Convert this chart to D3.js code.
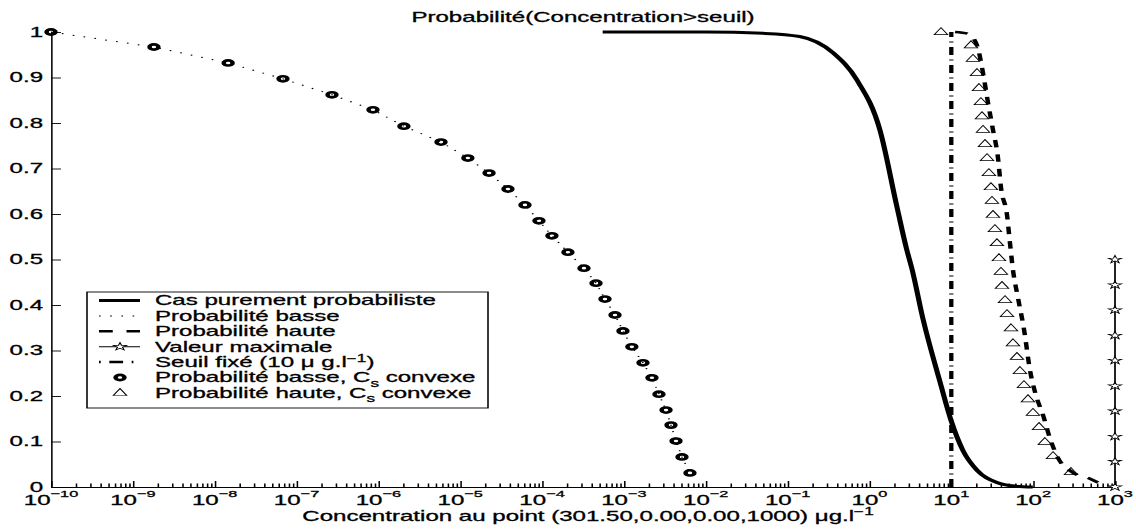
<!DOCTYPE html>
<html>
<head>
<meta charset="utf-8">
<script src="https://cdn.jsdelivr.net/npm/d3@7"></script>
<style>
  html, body { margin: 0; padding: 0; background: #fff; }
  svg { display: block; }
</style>
</head>
<body>
<div id="chart"></div>
<script>
// ---------------- data ----------------
const xDecades = [-10,-9,-8,-7,-6,-5,-4,-3,-2,-1,0,1,2,3];
const yTicks = [0,0.1,0.2,0.3,0.4,0.5,0.6,0.7,0.8,0.9,1];

// Cas purement probabiliste (solid)
const solidX = [5.5e-4, 0.01, 0.05, 0.14, 0.36, 0.7, 1.34, 2.17, 2.87, 3.3, 4.5, 7.3, 9.9, 13.9, 20.6, 36, 60, 99];
const solidP = [1, 1, 0.997, 0.99, 0.954, 0.895, 0.785, 0.615, 0.52, 0.48, 0.37, 0.23, 0.147, 0.08, 0.037, 0.01, 0.002, 0];

// Probabilité basse (dotted) and Probabilité basse, Cs convexe (circles)
const basseX = [1e-10, 1.81e-9, 1.46e-8, 6.83e-8, 2.71e-7, 8.59e-7, 2.05e-6, 5.82e-6, 1.24e-5, 2.25e-5,
  3.83e-5, 6.18e-5, 9.16e-5, 1.32e-4, 2.07e-4, 3.25e-4, 4.56e-4, 5.87e-4, 7.78e-4, 9.73e-4,
  1.25e-3, 1.71e-3, 2.20e-3, 2.68e-3, 3.27e-3, 3.76e-3, 4.33e-3, 5.12e-3, 6.41e-3];
const basseP = [1, 0.967, 0.932, 0.897, 0.862, 0.829, 0.793, 0.758, 0.723, 0.690,
  0.655, 0.620, 0.585, 0.552, 0.516, 0.481, 0.448, 0.413, 0.378, 0.343,
  0.308, 0.273, 0.240, 0.204, 0.169, 0.136, 0.101, 0.066, 0.031];

// Probabilité haute (dashed)
const hauteX = [11.1, 16.0, 20.6, 24.4, 28.0, 32.3, 37.2, 40.4, 47.9, 52.1, 56.7, 65.2, 77.2, 91.4, 108, 132, 160, 201, 298, 494, 800];
const hauteP = [1, 0.996, 0.971, 0.910, 0.846, 0.785, 0.723, 0.659, 0.598, 0.536, 0.477, 0.416, 0.347, 0.257, 0.202, 0.158, 0.108, 0.064, 0.033, 0.018, 0];

// Probabilité haute, Cs convexe (triangles)
const hauteCsX = [7.48, 17.4, 18.4, 20.6, 21.8, 23.0, 23.7, 24.4, 25.8, 27.3, 28.8, 30.5, 31.4, 32.3, 34.1, 36.1,
  38.2, 40.4, 41.6, 45.3, 47.9, 53.6, 56.7, 63.4, 69.0, 77.2, 86.4, 99.5, 118, 139, 175, 290];
const hauteCsP = [1, 0.971, 0.941, 0.910, 0.877, 0.846, 0.815, 0.785, 0.754, 0.723, 0.690, 0.659, 0.629, 0.598, 0.567, 0.536,
  0.503, 0.473, 0.442, 0.411, 0.380, 0.349, 0.316, 0.286, 0.255, 0.224, 0.193, 0.163, 0.132, 0.099, 0.068, 0.033];

// Valeur maximale (stars)
const maxX = 1000;
const maxP = [0, 0.056, 0.111, 0.167, 0.222, 0.278, 0.333, 0.389, 0.444, 0.5];

// Seuil fixé
const seuilX = 10;
const seuilP = [0, 1];

const titleText = "Probabilité(Concentration>seuil)";
const xLabelText = "Concentration au point (301.50,0.00,0.00,1000) μg.l";

// ---------------- layout ----------------
const W = 1136, H = 529;
const S = 1.72;               // horizontal stretch of the original figure
const FONT = "'Liberation Sans', Arial, Helvetica, sans-serif";

const svg = d3.select("#chart").append("svg").attr("width", W).attr("height", H);
const g = svg.append("g").attr("transform", `scale(${S},1)`)
  .style("font-family", FONT);

const x = d3.scaleLog().domain([1e-10, 1e3]).range([51 / S, 1115 / S]);
const y = d3.scaleLinear().domain([0, 1]).range([487, 32]);

const textStyle = sel => sel.attr("fill", "#000").attr("stroke", "#000").attr("stroke-width", 0.3);

// ---------------- axes ----------------
const majors = xDecades.map(e => Math.pow(10, e));
const minors = [];
xDecades.slice(0, -1).forEach(e => { for (let k = 2; k <= 9; k++) minors.push(k * Math.pow(10, e)); });

const xMinor = g.append("g").attr("transform", `translate(0,${y(0)})`)
  .call(d3.axisBottom(x).tickValues(minors).tickSize(-3.5).tickSizeOuter(0).tickFormat(""));
xMinor.select(".domain").remove();
const xMajor = g.append("g").attr("transform", `translate(0,${y(0)})`)
  .call(d3.axisBottom(x).tickValues(majors).tickSize(-6).tickSizeOuter(0).tickFormat(""));
g.selectAll(".tick line").attr("stroke", "#000").attr("stroke-width", 0.9);

// x tick labels 10^e
const xl = g.append("g").style("font-size", "14px").call(textStyle);
xDecades.forEach(e => {
  const t = xl.append("text").attr("x", x(Math.pow(10, e))).attr("y", 505).attr("text-anchor", "middle");
  t.append("tspan").text("10");
  t.append("tspan").attr("dy", -8).style("font-size", "9.5px").text(String(e).replace("-", "−"));
});

const yAxis = g.append("g").attr("transform", `translate(${x(1e-10)},0)`)
  .call(d3.axisLeft(y).tickValues(yTicks).tickSize(-5.8).tickSizeOuter(0).tickPadding(4.6)
    .tickFormat(d => d === 0 ? "0" : d === 1 ? "1" : d.toFixed(1)));
yAxis.selectAll("text").style("font-size", "14px").style("font-family", FONT).call(textStyle);
yAxis.selectAll(".tick line").attr("stroke", "#000").attr("stroke-width", 0.9);
g.selectAll(".domain").attr("stroke", "#000").attr("stroke-width", 0.9);

// title & x label
g.append("text").attr("x", 583 / S).attr("y", 22).attr("text-anchor", "middle")
  .style("font-size", "14px").call(textStyle).text(titleText);
const xlab = g.append("text").attr("x", 588 / S).attr("y", 521).attr("text-anchor", "middle")
  .style("font-size", "14px").call(textStyle);
xlab.append("tspan").text(xLabelText);
xlab.append("tspan").attr("dy", -6).style("font-size", "10px").text("−1");

// ---------------- series ----------------
const zip = (xs, ps) => xs.map((v, i) => [v, ps[i]]);
const lineMono = d3.line().x(d => x(d[0])).y(d => y(d[1])).curve(d3.curveMonotoneX);
const lineLin = d3.line().x(d => x(d[0])).y(d => y(d[1]));

// solid
g.append("path").datum(zip(solidX, solidP)).attr("d", lineMono)
  .attr("fill", "none").attr("stroke", "#000").attr("stroke-width", 3);
// dotted
g.append("path").datum(zip(basseX, basseP)).attr("d", lineLin)
  .attr("fill", "none").attr("stroke", "#000").attr("stroke-width", 1).attr("stroke-dasharray", "1,5.5");
// dashed
g.append("path").datum(zip(hauteX, hauteP)).attr("d", lineMono)
  .attr("fill", "none").attr("stroke", "#000").attr("stroke-width", 2.6).attr("stroke-dasharray", "7.5,7");
// stars
const starPath = d3.symbol().type(d3.symbolStar).size(18)();
g.append("path").datum(maxP.map(p => [maxX, p])).attr("d", lineLin)
  .attr("fill", "none").attr("stroke", "#000").attr("stroke-width", 1);
g.append("g").selectAll("path").data(maxP).join("path")
  .attr("d", starPath).attr("transform", p => `translate(${x(maxX)},${y(p)})`)
  .attr("fill", "#fff").attr("stroke", "#000").attr("stroke-width", 0.7);
// seuil dash-dot
g.append("path").datum(seuilP.map(p => [seuilX, p])).attr("d", lineLin)
  .attr("fill", "none").attr("stroke", "#000").attr("stroke-width", 2.5).attr("stroke-dasharray", "8,4.5,1,4.5");
// circles
g.append("g").selectAll("circle").data(zip(basseX, basseP)).join("circle")
  .attr("cx", d => x(d[0])).attr("cy", d => y(d[1])).attr("r", 2.6)
  .attr("fill", "none").attr("stroke", "#000").attr("stroke-width", 2.6);
// triangles
const tri = "M0,-4.4L3.9,2.6L-3.9,2.6Z";
g.append("g").selectAll("path").data(zip(hauteCsX, hauteCsP)).join("path")
  .attr("d", tri).attr("transform", d => `translate(${x(d[0])},${y(d[1])})`)
  .attr("fill", "none").attr("stroke", "#000").attr("stroke-width", 0.7);

// ---------------- legend ----------------
const legend = [
  { type: "solid", parts: [{ t: "Cas purement probabiliste" }] },
  { type: "dotted", parts: [{ t: "Probabilité basse" }] },
  { type: "dashed", parts: [{ t: "Probabilité haute" }] },
  { type: "star", parts: [{ t: "Valeur maximale" }] },
  { type: "dashdot", parts: [{ t: "Seuil fixé (10 μ g.l" }, { t: "−1", sup: true }, { t: ")" }] },
  { type: "circle", parts: [{ t: "Probabilité basse, C" }, { t: "s", sub: true }, { t: " convexe" }] },
  { type: "triangle", parts: [{ t: "Probabilité haute, C" }, { t: "s", sub: true }, { t: " convexe" }] }
];
const lg = g.append("g");
lg.append("rect").attr("x", 87 / S).attr("y", 292).attr("width", (488 - 87) / S).attr("height", 116)
  .attr("fill", "#fff").attr("stroke", "#000").attr("stroke-width", 0.9);
const lx0 = 99 / S, lx1 = 140 / S, lxm = 120 / S, ltx = 155 / S;
legend.forEach((e, i) => {
  const base = 305.5 + 15.4 * i, ly = base - 5;
  const row = lg.append("g");
  const seg = () => row.append("line").attr("x1", lx0).attr("x2", lx1).attr("y1", ly).attr("y2", ly)
    .attr("stroke", "#000").attr("fill", "none");
  if (e.type === "solid") seg().attr("stroke-width", 3);
  if (e.type === "dotted") seg().attr("stroke-width", 1).attr("stroke-dasharray", "1,5.5");
  if (e.type === "dashed") seg().attr("stroke-width", 2.6).attr("stroke-dasharray", "8,8");
  if (e.type === "dashdot") seg().attr("stroke-width", 2.5).attr("stroke-dasharray", "8,5,1,5").attr("stroke-dashoffset", 13);
  if (e.type === "star") {
    seg().attr("stroke-width", 1);
    row.append("path").attr("d", starPath).attr("transform", `translate(${lxm},${ly})`)
      .attr("fill", "#fff").attr("stroke", "#000").attr("stroke-width", 0.7);
  }
  if (e.type === "circle") row.append("circle").attr("cx", lxm).attr("cy", ly).attr("r", 2.6)
    .attr("fill", "none").attr("stroke", "#000").attr("stroke-width", 2.6);
  if (e.type === "triangle") row.append("path").attr("d", tri).attr("transform", `translate(${lxm},${ly})`)
    .attr("fill", "none").attr("stroke", "#000").attr("stroke-width", 0.7);
  const t = row.append("text").attr("x", ltx).attr("y", base).style("font-size", "14px").call(textStyle);
  let shift = 0;
  e.parts.forEach(p => {
    const ts = t.append("tspan").text(p.t);
    if (p.sub) { ts.attr("dy", 4.5 - shift).style("font-size", "10px"); shift = 4.5; }
    else if (p.sup) { ts.attr("dy", -5 - shift).style("font-size", "10px"); shift = -5; }
    else { if (shift !== 0) ts.attr("dy", -shift); shift = 0; }
  });
});
</script>
</body>
</html>
